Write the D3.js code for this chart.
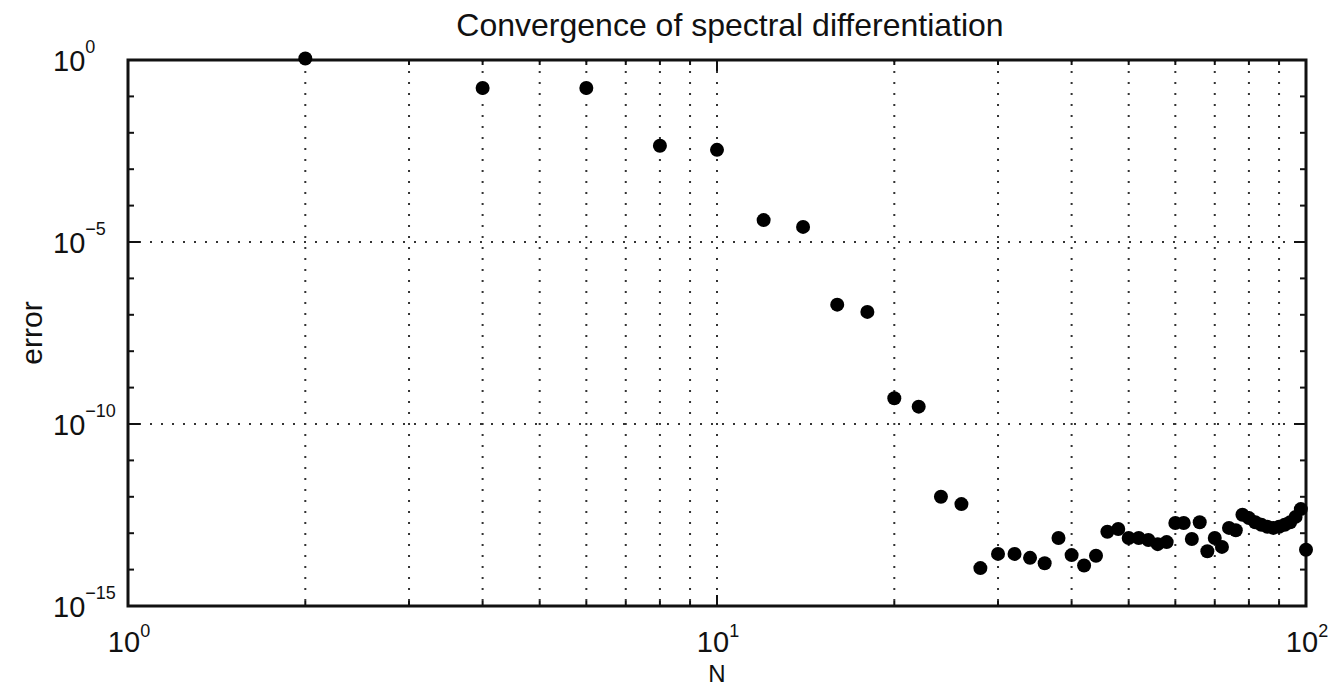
<!DOCTYPE html>
<html>
<head>
<meta charset="utf-8">
<script src="https://cdn.jsdelivr.net/npm/d3@7"></script>
<style>
  body { margin: 0; background: #fff; }
  text { font-family: "Liberation Sans", Arial, sans-serif; fill: #111; }
</style>
</head>
<body>
<div id="chart"></div>
<script>
// size of the page and the plot box
// (not called "top": that name is taken by window.top)
var width = 1341,
    height = 687,
    plotLeft = 128, plotRight = 1306, plotTop = 60, plotBottom = 606

// data
var N = [2, 4, 6, 8, 10, 12, 14, 16, 18, 20, 22, 24, 26, 28, 30, 32, 34, 36, 38, 40,
         42, 44, 46, 48, 50, 52, 54, 56, 58, 60, 62, 64, 66, 68, 70, 72, 74, 76, 78, 80,
         82, 84, 86, 88, 90, 92, 94, 96, 98, 100]
var err = [1.1, 1.7e-1, 1.7e-1, 4.4e-3, 3.4e-3, 4.0e-5, 2.6e-5, 1.9e-7, 1.2e-7, 5.1e-10,
           3.0e-10, 1.0e-12, 6.3e-13, 1.1e-14, 2.7e-14, 2.7e-14, 2.1e-14, 1.5e-14, 7.4e-14, 2.5e-14,
           1.3e-14, 2.4e-14, 1.1e-13, 1.3e-13, 7.4e-14, 7.4e-14, 6.5e-14, 5.0e-14, 5.7e-14, 1.9e-13,
           1.9e-13, 6.9e-14, 2.0e-13, 3.2e-14, 7.4e-14, 4.2e-14, 1.4e-13, 1.2e-13, 3.2e-13, 2.6e-13,
           2.0e-13, 1.7e-13, 1.5e-13, 1.4e-13, 1.5e-13, 1.7e-13, 2.0e-13, 2.8e-13, 4.6e-13, 3.5e-14]

// tick labels (base 10, exponent)
var xTickValues = [1, 10, 100]
var xTickExp = ["0", "1", "2"]
var yTickValues = [1, 1e-5, 1e-10, 1e-15]
var yTickExp = ["0", "\u22125", "\u221210", "\u221215"]
var xGrid = [2, 3, 4, 5, 6, 7, 8, 9, 10, 20, 30, 40, 50, 60, 70, 80, 90]
var yGrid = [1e-5, 1e-10]
var yMinor = [1e-1, 1e-2, 1e-3, 1e-4, 1e-6, 1e-7, 1e-8, 1e-9, 1e-11, 1e-12, 1e-13, 1e-14]

var x = d3.scaleLog().domain([1, 100]).range([plotLeft, plotRight])
var y = d3.scaleLog().domain([1e-15, 1]).range([plotBottom, plotTop])

var svg = d3.select("#chart")
  .append("svg")
    .attr("width", width)
    .attr("height", height)

// dotted grid
svg.selectAll(".gx")
  .data(xGrid)
  .enter()
  .append("line")
    .attr("x1", function(d){ return x(d) })
    .attr("x2", function(d){ return x(d) })
    .attr("y1", plotTop)
    .attr("y2", plotBottom)
    .attr("stroke", "#333")
    .attr("stroke-width", 2)
    .attr("stroke-dasharray", "2,9")

svg.selectAll(".gy")
  .data(yGrid)
  .enter()
  .append("line")
    .attr("x1", plotLeft)
    .attr("x2", plotRight)
    .attr("y1", function(d){ return y(d) })
    .attr("y2", function(d){ return y(d) })
    .attr("stroke", "#333")
    .attr("stroke-width", 2)
    .attr("stroke-dasharray", "2,9")

// ticks, pointing inwards on all four sides
function xTicks(vals, len) {
  vals.forEach(function(v) {
    svg.append("line").attr("x1", x(v)).attr("x2", x(v)).attr("y1", plotBottom).attr("y2", plotBottom - len)
      .attr("stroke", "#111").attr("stroke-width", 2)
    svg.append("line").attr("x1", x(v)).attr("x2", x(v)).attr("y1", plotTop).attr("y2", plotTop + len)
      .attr("stroke", "#111").attr("stroke-width", 2)
  })
}
function yTicks(vals, len) {
  vals.forEach(function(v) {
    svg.append("line").attr("x1", plotLeft).attr("x2", plotLeft + len).attr("y1", y(v)).attr("y2", y(v))
      .attr("stroke", "#111").attr("stroke-width", 2)
    svg.append("line").attr("x1", plotRight).attr("x2", plotRight - len).attr("y1", y(v)).attr("y2", y(v))
      .attr("stroke", "#111").attr("stroke-width", 2)
  })
}
xTicks(xGrid.filter(function(d){ return d != 10 }), 5)
xTicks([10], 11)
yTicks(yMinor, 6)
yTicks(yGrid, 12)

// box
svg.append("rect")
  .attr("x", plotLeft)
  .attr("y", plotTop)
  .attr("width", plotRight - plotLeft)
  .attr("height", plotBottom - plotTop)
  .attr("fill", "none")
  .attr("stroke", "#111")
  .attr("stroke-width", 3)

// points
svg.selectAll("circle")
  .data(N)
  .enter()
  .append("circle")
    .attr("cx", function(d){ return x(d) })
    .attr("cy", function(d, i){ return y(err[i]) })
    .attr("r", 7)
    .attr("fill", "#000")

// tick labels
xTickValues.forEach(function(v, i) {
  var t = svg.append("text")
    .attr("x", x(v) + 1)
    .attr("y", 652)
    .attr("text-anchor", "middle")
    .style("font-size", "29px")
  t.append("tspan").text("10")
  t.append("tspan").attr("dy", -15).style("font-size", "18px").text(xTickExp[i])
})

yTickValues.forEach(function(v, i) {
  var t = svg.append("text")
    .attr("x", 53)
    .attr("y", y(v) + 11)
    .attr("text-anchor", "start")
    .style("font-size", "29px")
  t.append("tspan").text("10")
  t.append("tspan").attr("dy", -18).style("font-size", "18px").text(yTickExp[i])
})

// title and axis names
svg.append("text")
  .attr("x", 730)
  .attr("y", 36)
  .attr("text-anchor", "middle")
  .style("font-size", "32px")
  .text("Convergence of spectral differentiation")

svg.append("text")
  .attr("x", (plotLeft + plotRight) / 2)
  .attr("y", 682)
  .attr("text-anchor", "middle")
  .style("font-size", "24px")
  .text("N")

svg.append("text")
  .attr("transform", "translate(42," + (plotTop + plotBottom) / 2 + ") rotate(-90)")
  .attr("text-anchor", "middle")
  .style("font-size", "30px")
  .text("error")
</script>
</body>
</html>
